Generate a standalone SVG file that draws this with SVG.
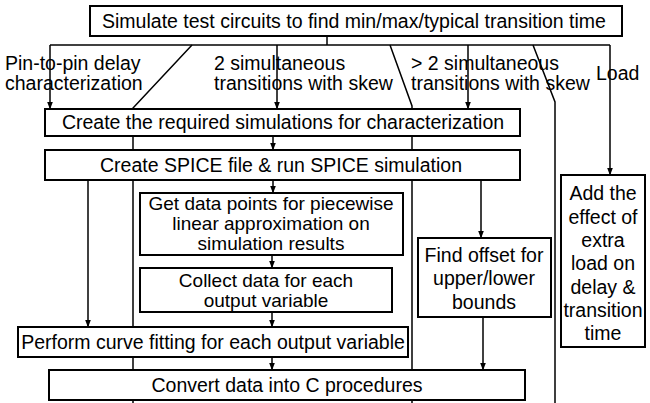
<svg xmlns="http://www.w3.org/2000/svg" width="650" height="403" viewBox="0 0 650 403">
<defs>
<marker id="ah" viewBox="0 0 8 8" refX="7.5" refY="4" markerWidth="8" markerHeight="8" markerUnits="userSpaceOnUse" orient="auto">
<path d="M0,1 L8,4 L0,7 Z" fill="#000"/>
</marker>
<style>
.box{fill:#fff;stroke:#000;stroke-width:2}
.t{font-family:"Liberation Sans",Arial,Helvetica,sans-serif;font-size:19.5px;fill:#000;text-anchor:middle}
.s{font-size:19px}
.l{font-family:"Liberation Sans",Arial,Helvetica,sans-serif;font-size:19.5px;fill:#000}
.c{fill:none;stroke:#000;stroke-width:1.5}
.a{fill:none;stroke:#000;stroke-width:1.5;marker-end:url(#ah)}
</style>
</defs>
<rect width="650" height="403" fill="#fff"/>

<g id="labels">
<text class="l" x="5" y="70">Pin-to-pin delay</text>
<text class="l" x="5" y="90">characterization</text>
<text class="l" x="214" y="70">2 simultaneous</text>
<text class="l" x="214" y="90">transitions with skew</text>
<text class="l" x="411" y="70">&gt; 2 simultaneous</text>
<text class="l" x="411" y="90">transitions with skew</text>
<text class="l" x="596" y="80">Load</text>
</g>

<g id="connectors">
<path class="c" d="M327,36 V45"/>
<path class="c" d="M50,45 H610"/>
<path class="a" d="M50,45 V109"/>
<path class="c" d="M192,45 L133,108 V403"/>
<path class="a" d="M277,45 V109"/>
<path class="c" d="M390,45 L412,106 V403"/>
<path class="a" d="M468,45 V109"/>
<path class="c" d="M533,45 L555,102 V403"/>
<path class="a" d="M610,45 V175"/>
<path class="a" d="M273,136 V150"/>
<path class="a" d="M273,180 V193"/>
<path class="a" d="M272,255 V268"/>
<path class="a" d="M272,312 V327"/>
<path class="a" d="M272,357 V370"/>
<path class="a" d="M88,180 V327"/>
<path class="a" d="M481,180 V238"/>
<path class="a" d="M483,317 V370"/>
</g>

<g id="n-top">
<rect class="box" x="90" y="6" width="532" height="30"/>
<text class="t" x="354" y="28">Simulate test circuits to find min/max/typical transition time</text>
</g>

<g id="n-create-req">
<rect class="box" x="45" y="109" width="475" height="27"/>
<text class="t" x="283" y="129">Create the required simulations for characterization</text>
</g>

<g id="n-spice">
<rect class="box" x="45" y="150" width="475" height="30"/>
<text class="t" x="281" y="172">Create SPICE file &amp; run SPICE simulation</text>
</g>

<g id="n-getdata">
<rect class="box" x="140" y="193" width="263" height="62"/>
<text class="t s" x="271" y="210">Get data points for piecewise</text>
<text class="t s" x="271" y="230">linear approximation on</text>
<text class="t s" x="271" y="250">simulation results</text>
</g>

<g id="n-collect">
<rect class="box" x="140" y="268" width="252" height="44"/>
<text class="t s" x="266" y="287">Collect data for each</text>
<text class="t s" x="266" y="307">output variable</text>
</g>

<g id="n-curve">
<rect class="box" x="18" y="327" width="390" height="30"/>
<text class="t" x="213" y="349">Perform curve fitting for each output variable</text>
</g>

<g id="n-convert">
<rect class="box" x="49" y="370" width="476" height="30"/>
<text class="t" x="287" y="392">Convert data into C procedures</text>
</g>

<g id="n-offset">
<rect class="box" x="418" y="238" width="133" height="79"/>
<text class="t" x="484" y="262">Find offset for</text>
<text class="t" x="484" y="285">upper/lower</text>
<text class="t" x="484" y="309">bounds</text>
</g>

<g id="n-load">
<rect class="box" x="561" y="175" width="84" height="172"/>
<text class="t" x="603" y="200">Add the</text>
<text class="t" x="603" y="224">effect of</text>
<text class="t" x="603" y="247">extra</text>
<text class="t" x="603" y="270">load on</text>
<text class="t" x="603" y="294">delay &amp;</text>
<text class="t" x="603" y="317">transition</text>
<text class="t" x="603" y="340">time</text>
</g>
</svg>
